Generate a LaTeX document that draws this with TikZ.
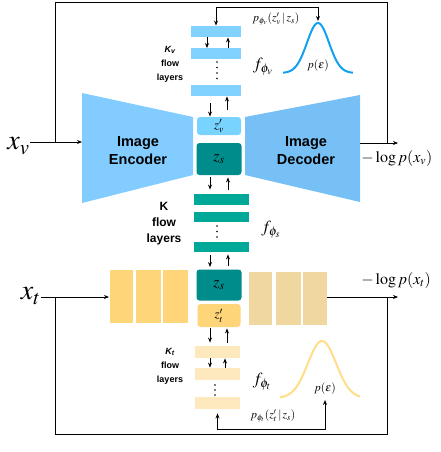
\documentclass[tikz,border=0pt]{standalone}
\usepackage{mathptmx}
\usepackage{fontspec}
\setmainfont{Liberation Serif}
\setsansfont{Liberation Sans}
\usetikzlibrary{arrows.meta}

\definecolor{encblue}{RGB}{130,204,255}
\definecolor{decblue}{RGB}{118,192,245}
\definecolor{flowblue}{RGB}{130,210,255}
\definecolor{zvblue}{RGB}{120,212,255}
\definecolor{zsteal}{RGB}{0,140,138}
\definecolor{flowteal}{RGB}{0,168,152}
\definecolor{txtyellow}{RGB}{255,213,122}
\definecolor{txttan}{RGB}{240,215,160}
\definecolor{flowcream}{RGB}{254,232,190}
\definecolor{gaussblue}{RGB}{20,160,240}
\definecolor{gaussyellow}{RGB}{255,222,135}

\tikzset{
    layer/.style={minimum height=11pt, inner sep=0pt},
    zbox/.style={rounded corners=3pt, inner sep=0pt, minimum width=44pt},
    klabel/.style={align=center, font=\sffamily\bfseries\fontsize{9}{14}\selectfont},
    netlabel/.style={align=center, font=\sffamily\bfseries\fontsize{14.5}{18}\selectfont},
    lab/.style={inner sep=0pt},
}

\begin{document}
\begin{tikzpicture}[x=1pt, y=-1pt, line width=0.9pt, >={Stealth[length=5pt,width=4pt]}]
    \useasboundingbox (0,0) rectangle (440,452);

    % encoder / decoder trapezes
    \fill[encblue] (82,93) -- (193,117) -- (193,175) -- (82,203) -- cycle;
    \fill[decblue] (245,117) -- (360,95) -- (360,202) -- (245,175) -- cycle;
    \node[netlabel] (enc) at (138,151) {Image\\Encoder};
    \node[netlabel] (dec) at (306,151) {Image\\Decoder};

    % latent boxes
    \node[zbox, fill=zvblue, minimum height=18pt] (zv) at (219,126) {\fontsize{13}{13}\selectfont$z'_v$};
    \node[zbox, fill=zsteal, minimum width=45pt, minimum height=32pt] (zs) at (219,159) {\fontsize{16}{16}\selectfont$z_s$};
    \node[zbox, fill=zsteal, minimum width=45pt, minimum height=31pt] (zsb) at (219,285) {\fontsize{16}{16}\selectfont$z_s$};
    \node[zbox, fill=txtyellow, minimum width=43pt, minimum height=23pt] (zt) at (219,315.5) {\fontsize{13}{13}\selectfont$z'_t$};

    % text encoder / decoder blocks
    \foreach \a/\b in {110/133, 136/161, 163/188}
        \fill[txtyellow] (\a,270) rectangle (\b,323);
    \foreach \a/\b in {249/272, 276/301, 303/327}
        \fill[txttan] (\a,272) rectangle (\b,325);

    % visual flow layers
    \node[layer, fill=flowblue, minimum width=50pt] (v1) at (216,31.5) {};
    \node[layer, fill=flowblue, minimum width=50pt] (v2) at (216,54) {};
    \node[layer, fill=flowblue, minimum width=50pt] (v3) at (216,90.5) {};
    \foreach \y in {62,67.5,73,78.5}
        \fill (217,\y) circle (0.8pt);

    % shared flow layers
    \node[layer, fill=flowteal, minimum width=55pt] (s1) at (221,199.5) {};
    \node[layer, fill=flowteal, minimum width=55pt, minimum height=10pt] (s2) at (221,217) {};
    \node[layer, fill=flowteal, minimum width=55pt, minimum height=10pt] (s3) at (221,247) {};
    \foreach \y in {226,231.5,237}
        \fill (217,\y) circle (0.8pt);

    % text flow layers
    \node[layer, fill=flowcream, minimum width=45pt, minimum height=12pt] (t1) at (217.5,352) {};
    \node[layer, fill=flowcream, minimum width=45pt, minimum height=12pt] (t2) at (217.5,374) {};
    \node[layer, fill=flowcream, minimum width=45pt, minimum height=12pt] (t3) at (217.5,403) {};
    \foreach \y in {385,390,395}
        \fill (215,\y) circle (0.8pt);

    % up / down arrows between layers
    \draw[->] ([xshift=-9pt]v1.south) -- ([xshift=-9pt]v2.north);
    \draw[<-] ([xshift=12pt]v1.south) -- ([xshift=12pt]v2.north);
    \draw[->, shorten <=7pt] ([xshift=-6pt]v3.south) -- ([xshift=-9pt]zv.north);
    \draw[<-, shorten >=7pt] ([xshift=11pt]v3.south) -- ([xshift=8pt]zv.north);
    \draw[->, shorten <=2pt, shorten >=4pt] ([xshift=-9pt]zs.south) -- ([xshift=-11pt]s1.north);
    \draw[<-, shorten >=4pt, shorten <=2pt] ([xshift=9pt]zs.south) -- ([xshift=7pt]s1.north);
    \draw[->, shorten <=3pt, shorten >=2pt] ([xshift=-11pt]s3.south) -- ([xshift=-9pt]zsb.north);
    \draw[<-, shorten >=3pt, shorten <=2pt] ([xshift=7pt]s3.south) -- ([xshift=9pt]zsb.north);
    \draw[->, shorten <=1pt, shorten >=3pt] ([xshift=-9pt]zt.south) -- ([xshift=-7.5pt]t1.north);
    \draw[<-, shorten <=1pt, shorten >=3pt] ([xshift=8pt]zt.south) -- ([xshift=9.5pt]t1.north);
    \draw[->] ([xshift=-7.5pt]t1.south) -- ([xshift=-7.5pt]t2.north);
    \draw[<-] ([xshift=7.5pt]t1.south) -- ([xshift=7.5pt]t2.north);

    % gaussians
    \draw[gaussblue, line width=2pt] plot[domain=-35:35, samples=80] ({318+\x}, {73-50*exp(-(\x*\x)/242)});
    \draw[gaussyellow, line width=2pt] plot[domain=-42:38, samples=80] ({322+\x}, {398-57*exp(-(\x*\x)/400)});
    \coordinate (vpeak) at (318,21);
    \coordinate (tbase) at (325,400);

    % labels
    \node[klabel] (kv) at (170,64) {\textit{K\textsubscript{v}}\\flow\\layers};
    \node[klabel, font=\sffamily\bfseries\fontsize{12}{16}\selectfont] (ks) at (164,224) {K\\flow\\layers};
    \node[klabel] (kt) at (170,366) {\textit{K\textsubscript{t}}\\flow\\layers};
    \node[lab] (fv) at (263,67) {\fontsize{17}{17}\selectfont$f_{\phi_v}$};
    \node[lab] (fs) at (271,230) {\fontsize{17}{17}\selectfont$f_{\phi_s}$};
    \node[lab] (ft) at (262,382) {\fontsize{17}{17}\selectfont$f_{\phi_t}$};
    \node[lab] (pv) at (276,19) {\fontsize{11.5}{11.5}\selectfont$p_{\phi_v}(z'_v\,|\,z_s)$};
    \node[lab] (pt) at (273,416) {\fontsize{11.5}{11.5}\selectfont$p_{\phi_t}(z'_t\,|\,z_s)$};
    \node[lab] (ev) at (318,66) {\fontsize{11.5}{11.5}\selectfont$p(\epsilon)$};
    \node[lab] (et) at (325,389) {\fontsize{11.5}{11.5}\selectfont$p(\epsilon)$};
    \node[lab, anchor=west] (lv) at (361,158) {\fontsize{16}{16}\selectfont$-\log p(x_v)$};
    \node[lab, anchor=west] (lt) at (361,280) {\fontsize{16}{16}\selectfont$-\log p(x_t)$};
    \node[lab, anchor=east] (xv) at (30,146) {\fontsize{28}{28}\selectfont$x_v$};
    \node[lab, anchor=east] (xt) at (41,296) {\fontsize{28}{28}\selectfont$x_t$};

    % inputs, outputs and loops
    \coordinate (encin) at (82,142);
    \coordinate (decout) at (360,143);
    \coordinate (vend) at (398,143);
    \coordinate (tin) at (109,297);
    \coordinate (tout) at (327,297);
    \coordinate (tend) at (398,297);
    \draw[->] (xv.east |- encin) -- (encin);
    \draw[->] (decout) -- (vend);
    \draw[->] (xt.east |- tin) -- (tin);
    \draw[->] (tout) -- (tend);
    \draw (55,142) -- (55,2) -- (387,2) -- (387,143);
    \draw (55,297) -- (55,434) -- (387,434) -- (387,297);
    \draw[<->] (v1.north) |- (318,7) -- (vpeak);
    \draw[<->] ([yshift=-4pt]t3.south) |- (325,429) -- (tbase);
\end{tikzpicture}
\end{document}
